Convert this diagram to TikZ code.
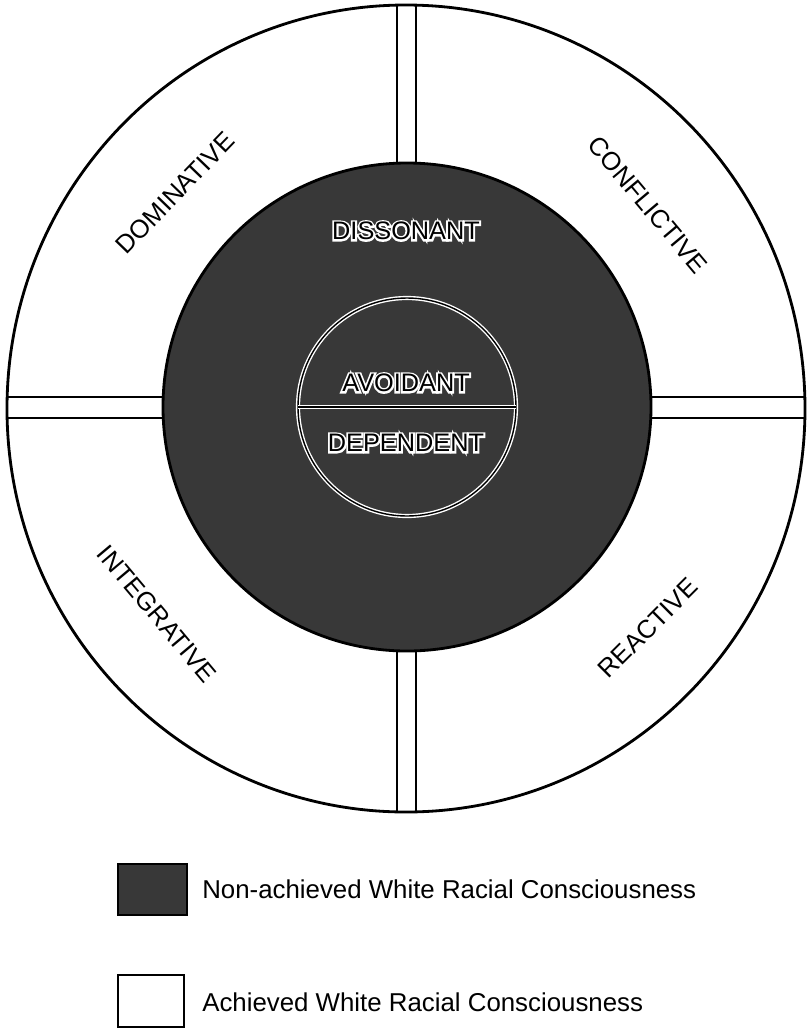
\documentclass[tikz,border=0pt]{standalone}
\usepackage{fontspec}
\setmainfont{Liberation Sans}
\newfontfamily\halofont[FakeBold=15]{Liberation Sans}
\begin{document}
\begin{tikzpicture}[x=0.02cm,y=-0.02cm]
\tikzstyle{trait} = [line width=1.6pt,black];
\tikzstyle{fonce} = [fill=black!78];
\tikzstyle{stade} = [font=\fontsize{14.6}{16}\selectfont,inner sep=0pt];
\tikzstyle{interne} = [font=\fontsize{14.4}{16}\selectfont,inner sep=0pt];
\tikzstyle{halo} = [font=\halofont\fontsize{14.4}{16}\selectfont,inner sep=0pt,white];
\tikzstyle{legtxt} = [font=\fontsize{14.7}{16}\selectfont,inner sep=0pt,anchor=west];

\useasboundingbox (0,0) rectangle (809,1029);

% barres entre les quadrants
\begin{scope}
\clip (406,408.5) ellipse [x radius=399, y radius=403.5];
\draw[trait] (397,0) -- (397,830);
\draw[trait] (416,0) -- (416,830);
\draw[trait] (0,397) -- (830,397);
\draw[trait] (0,418) -- (830,418);
\end{scope}
\draw[trait] (406,408.5) ellipse [x radius=399, y radius=403.5];

% disque sombre
\fill[fonce] (407,407) circle [radius=244];
\draw[trait] (407,407) circle [radius=244];

% cercle central
\draw[white,line width=2.4pt] (407,407) circle [radius=109];
\draw[black,line width=0.8pt] (407,407) circle [radius=109];
\draw[white,line width=2.4pt] (298,407) -- (516,407);
\draw[black,line width=0.8pt] (298,407) -- (516,407);

\node[stade,rotate=46] (dom) at (175,193) {DOMINATIVE};
\node[stade,rotate=-50] (conf) at (648,205) {CONFLICTIVE};
\node[stade,rotate=-50] (integ) at (157,614) {INTEGRATIVE};
\node[stade,rotate=45] (react) at (648,628) {REACTIVE};

\foreach \nom/\y/\txt in {disso/231/DISSONANT,avoid/383/AVOIDANT,depend/443/DEPENDENT}{
	\node[halo] at (406,\y) {\txt};
	\node[interne] (\nom) at (406,\y) {\txt};
}

% legende
\draw[trait,fonce] (118,864) rectangle (187,915);
\draw[trait] (118,975) rectangle (184,1027);
\node[legtxt] (nonatteint) at (202,889) {Non-achieved White Racial Consciousness};
\node[legtxt] (atteint) at (202,1002) {Achieved White Racial Consciousness};
\end{tikzpicture}
\end{document}
